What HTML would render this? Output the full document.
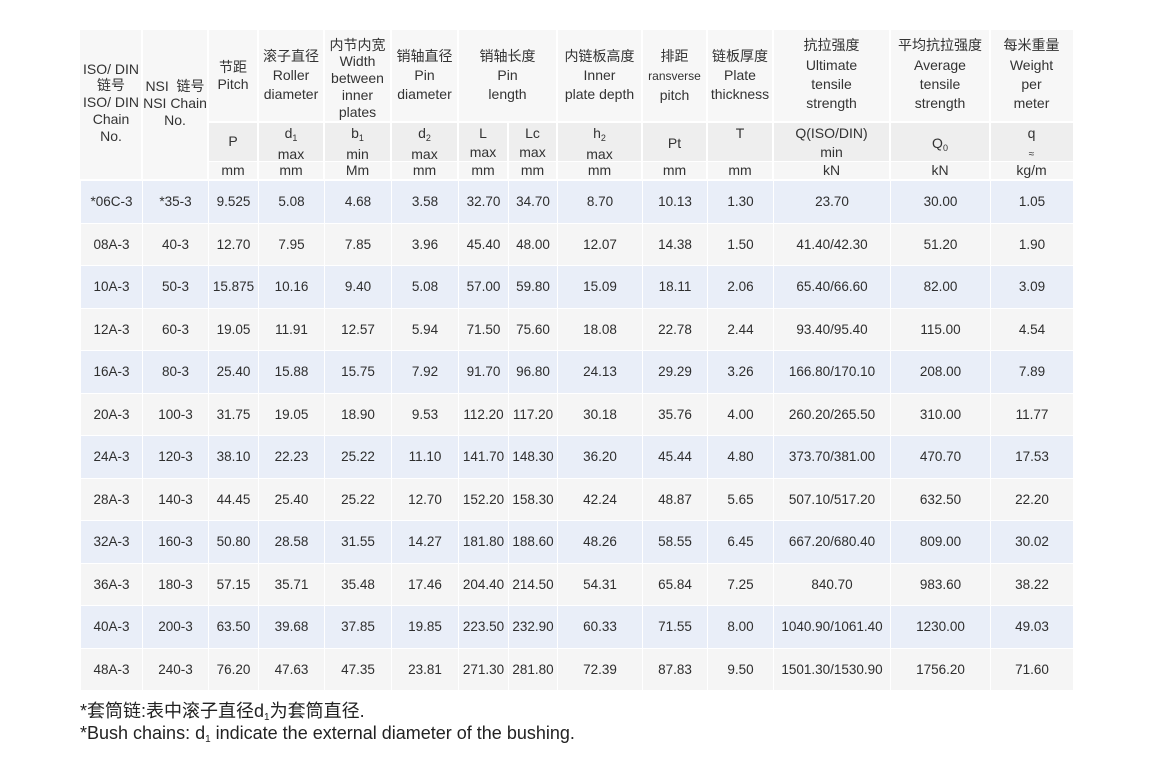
<!DOCTYPE html>
<html><head><meta charset="utf-8">
<style>
html,body{margin:0;padding:0;background:#fff;}
body{width:1149px;height:772px;position:relative;overflow:hidden;font-family:"Liberation Sans","Noto Sans CJK SC",sans-serif;color:#333;}
.b{position:absolute;}
.h{background:#f7f7f7;}
.s{background:#eeeeee;}
.u{background:#f6f6f6;}
.t{position:absolute;text-align:center;font-size:14px;white-space:nowrap;}
.sb{font-size:9px;position:relative;top:3px;}
table{position:absolute;left:80px;top:180px;width:993px;border-collapse:collapse;table-layout:fixed;}
td{padding:0;text-align:center;font-size:13.5px;border:1px solid #fff;height:41.5px;color:#2e2e2e;white-space:nowrap;}
tr.a td{background:#e9eef8;}
tr.g td{background:#f5f5f5;}
.fn{position:absolute;left:80px;font-size:18px;line-height:22px;color:#222;white-space:nowrap;}
</style></head><body>

<!-- header backgrounds: top row -->
<div class="b h" style="left:80px;top:30px;width:61px;height:149px"></div>
<div class="b h" style="left:143px;top:30px;width:64px;height:149px"></div>
<div class="b h" style="left:209px;top:30px;width:48px;height:91px"></div>
<div class="b h" style="left:259px;top:30px;width:64px;height:91px"></div>
<div class="b h" style="left:325px;top:30px;width:65px;height:91px"></div>
<div class="b h" style="left:392px;top:30px;width:65px;height:91px"></div>
<div class="b h" style="left:459px;top:30px;width:97px;height:91px"></div>
<div class="b h" style="left:558px;top:30px;width:83px;height:91px"></div>
<div class="b h" style="left:643px;top:30px;width:63px;height:91px"></div>
<div class="b h" style="left:708px;top:30px;width:64px;height:91px"></div>
<div class="b h" style="left:774px;top:30px;width:115px;height:91px"></div>
<div class="b h" style="left:891px;top:30px;width:98px;height:91px"></div>
<div class="b h" style="left:991px;top:30px;width:82px;height:91px"></div>

<!-- subheader row -->
<div class="b s" style="left:209px;top:123px;width:48px;height:38px"></div>
<div class="b s" style="left:259px;top:123px;width:64px;height:38px"></div>
<div class="b s" style="left:325px;top:123px;width:65px;height:38px"></div>
<div class="b s" style="left:392px;top:123px;width:65px;height:38px"></div>
<div class="b s" style="left:459px;top:123px;width:48px;height:38px"></div>
<div class="b s" style="left:509px;top:123px;width:47px;height:38px"></div>
<div class="b s" style="left:558px;top:123px;width:83px;height:38px"></div>
<div class="b s" style="left:643px;top:123px;width:63px;height:38px"></div>
<div class="b s" style="left:708px;top:123px;width:64px;height:38px"></div>
<div class="b s" style="left:774px;top:123px;width:115px;height:38px"></div>
<div class="b s" style="left:891px;top:123px;width:98px;height:38px"></div>
<div class="b s" style="left:991px;top:123px;width:82px;height:38px"></div>

<!-- units row -->
<div class="b u" style="left:209px;top:162px;width:48px;height:17px"></div>
<div class="b u" style="left:259px;top:162px;width:64px;height:17px"></div>
<div class="b u" style="left:325px;top:162px;width:65px;height:17px"></div>
<div class="b u" style="left:392px;top:162px;width:65px;height:17px"></div>
<div class="b u" style="left:459px;top:162px;width:48px;height:17px"></div>
<div class="b u" style="left:509px;top:162px;width:47px;height:17px"></div>
<div class="b u" style="left:558px;top:162px;width:83px;height:17px"></div>
<div class="b u" style="left:643px;top:162px;width:63px;height:17px"></div>
<div class="b u" style="left:708px;top:162px;width:64px;height:17px"></div>
<div class="b u" style="left:774px;top:162px;width:115px;height:17px"></div>
<div class="b u" style="left:891px;top:162px;width:98px;height:17px"></div>
<div class="b u" style="left:991px;top:162px;width:82px;height:17px"></div>

<!-- header text -->
<div class="t" style="left:80px;width:62px;top:60.6px;line-height:16.8px">ISO/ DIN<br>链号<br>ISO/ DIN<br>Chain<br>No.</div>
<div class="t" style="left:142px;width:66px;top:77.5px;line-height:17px">NSI&nbsp; 链号<br>NSI Chain<br>No.</div>
<div class="t" style="left:208px;width:50px;top:58.5px;line-height:17px">节距<br>Pitch</div>
<div class="t" style="left:258px;width:66px;top:46.5px;line-height:19px">滚子直径<br>Roller<br>diameter</div>
<div class="t" style="left:324px;width:67px;top:36.6px;line-height:16.75px">内节内宽<br>Width<br>between<br>inner<br>plates</div>
<div class="t" style="left:391px;width:67px;top:46.5px;line-height:19px">销轴直径<br>Pin<br>diameter</div>
<div class="t" style="left:458px;width:99px;top:46.5px;line-height:19px">销轴长度<br>Pin<br>length</div>
<div class="t" style="left:557px;width:85px;top:46.5px;line-height:19px">内链板高度<br>Inner<br>plate depth</div>
<div class="t" style="left:642px;width:65px;top:46.5px;line-height:19px">排距<br><span style="font-size:12px">ransverse</span><br>pitch</div>
<div class="t" style="left:707px;width:66px;top:46.5px;line-height:19px">链板厚度<br>Plate<br>thickness</div>
<div class="t" style="left:773px;width:117px;top:36.4px;line-height:19.3px">抗拉强度<br>Ultimate<br>tensile<br>strength</div>
<div class="t" style="left:890px;width:100px;top:36.4px;line-height:19.3px">平均抗拉强度<br>Average<br>tensile<br>strength</div>
<div class="t" style="left:990px;width:83px;top:36.4px;line-height:19.3px">每米重量<br>Weight<br>per<br>meter</div>

<!-- subheader text -->
<div class="t" style="left:208px;width:50px;top:131.5px;line-height:19px">P</div>
<div class="t" style="left:258px;width:66px;top:123.5px;line-height:19px">d<span class="sb">1</span><br>max</div>
<div class="t" style="left:324px;width:67px;top:123.5px;line-height:19px">b<span class="sb">1</span><br>min</div>
<div class="t" style="left:391px;width:67px;top:123.5px;line-height:19px">d<span class="sb">2</span><br>max</div>
<div class="t" style="left:458px;width:50px;top:123.5px;line-height:19px">L<br>max</div>
<div class="t" style="left:508px;width:49px;top:123.5px;line-height:19px">Lc<br>max</div>
<div class="t" style="left:557px;width:85px;top:123.5px;line-height:19px">h<span class="sb">2</span><br>max</div>
<div class="t" style="left:642px;width:65px;top:133.5px;line-height:19px">Pt</div>
<div class="t" style="left:707px;width:66px;top:123.5px;line-height:19px">T</div>
<div class="t" style="left:773px;width:117px;top:123.5px;line-height:19px">Q(ISO/DIN)<br>min</div>
<div class="t" style="left:890px;width:100px;top:133.5px;line-height:19px">Q<span class="sb">0</span></div>
<div class="t" style="left:990px;width:83px;top:123.5px;line-height:19px">q<br><span style="font-size:10px">≈</span></div>

<!-- units -->
<div class="t" style="left:208px;width:50px;top:161px;line-height:18px">mm</div>
<div class="t" style="left:258px;width:66px;top:161px;line-height:18px">mm</div>
<div class="t" style="left:324px;width:67px;top:161px;line-height:18px">Mm</div>
<div class="t" style="left:391px;width:67px;top:161px;line-height:18px">mm</div>
<div class="t" style="left:458px;width:50px;top:161px;line-height:18px">mm</div>
<div class="t" style="left:508px;width:49px;top:161px;line-height:18px">mm</div>
<div class="t" style="left:557px;width:85px;top:161px;line-height:18px">mm</div>
<div class="t" style="left:642px;width:65px;top:161px;line-height:18px">mm</div>
<div class="t" style="left:707px;width:66px;top:161px;line-height:18px">mm</div>
<div class="t" style="left:773px;width:117px;top:161px;line-height:18px">kN</div>
<div class="t" style="left:890px;width:100px;top:161px;line-height:18px">kN</div>
<div class="t" style="left:990px;width:83px;top:161px;line-height:18px">kg/m</div>

<table>
<colgroup>
<col style="width:62px"><col style="width:66px"><col style="width:50px"><col style="width:66px"><col style="width:67px"><col style="width:67px"><col style="width:50px"><col style="width:49px"><col style="width:85px"><col style="width:65px"><col style="width:66px"><col style="width:117px"><col style="width:100px"><col style="width:83px">
</colgroup>
<tr class="a"><td>*06C-3</td><td>*35-3</td><td>9.525</td><td>5.08</td><td>4.68</td><td>3.58</td><td>32.70</td><td>34.70</td><td>8.70</td><td>10.13</td><td>1.30</td><td>23.70</td><td>30.00</td><td>1.05</td></tr>
<tr class="g"><td>08A-3</td><td>40-3</td><td>12.70</td><td>7.95</td><td>7.85</td><td>3.96</td><td>45.40</td><td>48.00</td><td>12.07</td><td>14.38</td><td>1.50</td><td>41.40/42.30</td><td>51.20</td><td>1.90</td></tr>
<tr class="a"><td>10A-3</td><td>50-3</td><td>15.875</td><td>10.16</td><td>9.40</td><td>5.08</td><td>57.00</td><td>59.80</td><td>15.09</td><td>18.11</td><td>2.06</td><td>65.40/66.60</td><td>82.00</td><td>3.09</td></tr>
<tr class="g"><td>12A-3</td><td>60-3</td><td>19.05</td><td>11.91</td><td>12.57</td><td>5.94</td><td>71.50</td><td>75.60</td><td>18.08</td><td>22.78</td><td>2.44</td><td>93.40/95.40</td><td>115.00</td><td>4.54</td></tr>
<tr class="a"><td>16A-3</td><td>80-3</td><td>25.40</td><td>15.88</td><td>15.75</td><td>7.92</td><td>91.70</td><td>96.80</td><td>24.13</td><td>29.29</td><td>3.26</td><td>166.80/170.10</td><td>208.00</td><td>7.89</td></tr>
<tr class="g"><td>20A-3</td><td>100-3</td><td>31.75</td><td>19.05</td><td>18.90</td><td>9.53</td><td>112.20</td><td>117.20</td><td>30.18</td><td>35.76</td><td>4.00</td><td>260.20/265.50</td><td>310.00</td><td>11.77</td></tr>
<tr class="a"><td>24A-3</td><td>120-3</td><td>38.10</td><td>22.23</td><td>25.22</td><td>11.10</td><td>141.70</td><td>148.30</td><td>36.20</td><td>45.44</td><td>4.80</td><td>373.70/381.00</td><td>470.70</td><td>17.53</td></tr>
<tr class="g"><td>28A-3</td><td>140-3</td><td>44.45</td><td>25.40</td><td>25.22</td><td>12.70</td><td>152.20</td><td>158.30</td><td>42.24</td><td>48.87</td><td>5.65</td><td>507.10/517.20</td><td>632.50</td><td>22.20</td></tr>
<tr class="a"><td>32A-3</td><td>160-3</td><td>50.80</td><td>28.58</td><td>31.55</td><td>14.27</td><td>181.80</td><td>188.60</td><td>48.26</td><td>58.55</td><td>6.45</td><td>667.20/680.40</td><td>809.00</td><td>30.02</td></tr>
<tr class="g"><td>36A-3</td><td>180-3</td><td>57.15</td><td>35.71</td><td>35.48</td><td>17.46</td><td>204.40</td><td>214.50</td><td>54.31</td><td>65.84</td><td>7.25</td><td>840.70</td><td>983.60</td><td>38.22</td></tr>
<tr class="a"><td>40A-3</td><td>200-3</td><td>63.50</td><td>39.68</td><td>37.85</td><td>19.85</td><td>223.50</td><td>232.90</td><td>60.33</td><td>71.55</td><td>8.00</td><td>1040.90/1061.40</td><td>1230.00</td><td>49.03</td></tr>
<tr class="g"><td>48A-3</td><td>240-3</td><td>76.20</td><td>47.63</td><td>47.35</td><td>23.81</td><td>271.30</td><td>281.80</td><td>72.39</td><td>87.83</td><td>9.50</td><td>1501.30/1530.90</td><td>1756.20</td><td>71.60</td></tr>
</table>

<div class="fn" style="top:700px">*套筒链:表中滚子直径d<span style="font-size:10px;position:relative;top:3px">1</span>为套筒直径.</div>
<div class="fn" style="top:722px">*Bush chains: d<span style="font-size:10px;position:relative;top:3px">1</span> indicate the external diameter of the bushing.</div>

</body></html>
